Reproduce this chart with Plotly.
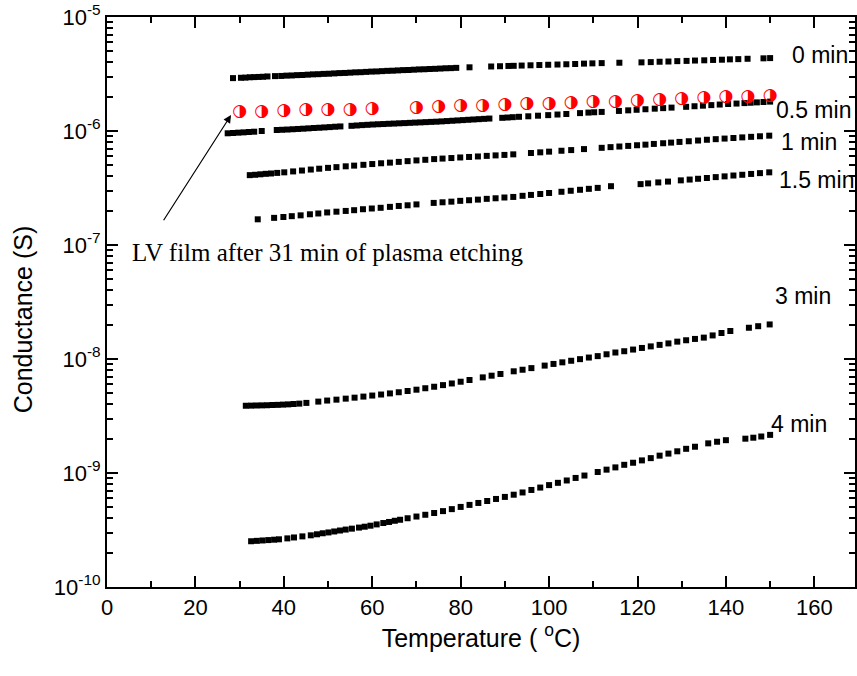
import math
import plotly.graph_objects as go

# ---------------- data ----------------
# 0 min (conductance in microsiemens)
x_0 = [28.5, 30.3, 31.3, 32.3, 33.3, 34.3, 35.3, 36.3, 38.0, 39.4, 40.6, 41.8, 43.0, 44.2, 45.4, 46.6,
       47.8, 49.0, 50.2, 51.4, 52.6, 53.8, 55.0, 56.2, 57.4, 58.6, 59.8, 61.0, 62.2, 63.4, 64.6, 65.8,
       67.0, 68.2, 69.4, 70.6, 71.8, 73.0, 74.2, 75.4, 76.6, 77.8, 79.0, 82.0, 86.9, 88.9, 90.8, 92.0,
       93.8, 95.8, 97.8, 99.8, 101.9, 103.9, 105.9, 107.9, 109.8, 111.9, 115.9, 120.9, 123.0, 125.0,
       127.0, 129.0, 131.1, 133.0, 135.1, 137.1, 139.1, 140.9, 142.8, 144.9, 148.5, 150.0]
g_0_uS = [2.91, 2.93, 2.94, 2.96, 2.97, 2.98, 2.99, 3.01, 3.03, 3.04, 3.06, 3.07, 3.09, 3.10, 3.12, 3.14,
          3.15, 3.17, 3.18, 3.20, 3.22, 3.23, 3.25, 3.27, 3.28, 3.30, 3.32, 3.33, 3.35, 3.37, 3.38, 3.40,
          3.42, 3.43, 3.45, 3.47, 3.48, 3.50, 3.51, 3.53, 3.55, 3.56, 3.58, 3.62, 3.68, 3.70, 3.72, 3.73,
          3.75, 3.77, 3.79, 3.81, 3.83, 3.85, 3.87, 3.90, 3.92, 3.94, 3.97, 4.00, 4.02, 4.05,
          4.07, 4.10, 4.12, 4.15, 4.17, 4.20, 4.22, 4.25, 4.27, 4.30, 4.34, 4.36]

# 0.5 min (microsiemens)
x_05 = [27.3, 28.5, 29.7, 30.9, 32.1, 33.3, 35.0, 38.4, 39.6, 40.8, 42.0, 43.2, 44.4, 45.6, 46.8, 48.0,
        49.2, 50.4, 51.6, 52.8, 55.3, 56.5, 57.7, 58.9, 60.1, 61.3, 62.5, 63.7, 64.9, 66.1, 67.3, 68.5,
        69.7, 70.9, 72.1, 73.3, 74.5, 75.7, 76.9, 78.1, 79.3, 80.5, 81.7, 82.9, 84.1, 85.3, 86.5, 89.4,
        90.6, 91.8, 93.2, 95.3, 97.5, 99.8, 101.9, 103.9, 107.0, 108.9, 110.2, 111.9, 115.8, 117.9,
        119.8, 121.8, 123.9, 125.8, 127.7, 131.0, 132.9, 134.8, 136.7, 138.6, 140.5, 142.4, 144.2,
        145.6, 147.0, 148.5, 150.0]
g_05_uS = [0.955, 0.960, 0.967, 0.973, 0.980, 0.986, 1.000, 1.020, 1.025, 1.030, 1.036, 1.042, 1.048,
           1.055, 1.062, 1.068, 1.075, 1.082, 1.090, 1.097, 1.110, 1.118, 1.126, 1.133, 1.140, 1.146,
           1.151, 1.157, 1.162, 1.168, 1.173, 1.179, 1.185, 1.190, 1.196, 1.202, 1.207, 1.214, 1.222,
           1.230, 1.238, 1.246, 1.254, 1.262, 1.270, 1.278, 1.286, 1.305, 1.313, 1.322, 1.332, 1.346,
           1.362, 1.378, 1.395, 1.410, 1.435, 1.450, 1.460, 1.470, 1.500, 1.518, 1.535, 1.552, 1.570,
           1.587, 1.604, 1.630, 1.649, 1.668, 1.687, 1.706, 1.724, 1.741, 1.757, 1.770, 1.783, 1.797,
           1.810]

# LV film after 31 min of plasma etching (microsiemens)
x_lv = [30, 35, 40, 45, 50, 55, 60, 70, 75, 80, 85, 90, 95, 100, 105, 110, 115, 120, 125, 130, 135,
        140, 145, 150]
g_lv_uS = [1.48, 1.49, 1.51, 1.53, 1.53, 1.55, 1.56, 1.61, 1.64, 1.66, 1.67, 1.69, 1.72, 1.75, 1.77,
           1.79, 1.81, 1.84, 1.87, 1.90, 1.94, 1.98, 1.99, 2.03]

# 1 min (microsiemens)
x_1 = [32.3, 33.5, 34.7, 35.9, 37.1, 38.5, 40.1, 42.1, 44.1, 46.1, 48.0, 50.0, 51.9, 54.0, 55.9, 58.0,
       60.0, 62.0, 64.0, 66.0, 68.0, 70.0, 72.0, 74.0, 75.9, 77.9, 79.9, 81.9, 83.9, 85.9, 87.9, 89.9,
       91.9, 95.9, 98.0, 100.0, 102.8, 105.0, 107.9, 111.9, 113.9, 115.9, 117.9, 119.9, 121.8, 123.7,
       125.8, 127.6, 129.5, 131.6, 133.7, 135.7, 137.7, 139.7, 141.7, 143.7, 145.7, 147.7, 149.8]
g_1_uS = [0.410, 0.413, 0.417, 0.421, 0.424, 0.429, 0.434, 0.442, 0.450, 0.459, 0.467, 0.475, 0.482,
          0.490, 0.497, 0.505, 0.513, 0.521, 0.528, 0.536, 0.544, 0.552, 0.559, 0.567, 0.573, 0.579,
          0.586, 0.592, 0.598, 0.605, 0.611, 0.617, 0.624, 0.641, 0.650, 0.659, 0.671, 0.680, 0.694,
          0.712, 0.722, 0.731, 0.740, 0.750, 0.759, 0.770, 0.781, 0.791, 0.802, 0.813, 0.825, 0.838,
          0.848, 0.858, 0.868, 0.879, 0.889, 0.899, 0.910]

# 1.5 min (microsiemens)
x_15 = [34.1, 37.8, 39.9, 41.8, 43.8, 45.9, 47.8, 49.8, 51.9, 54.0, 55.9, 57.9, 59.9, 61.9, 64.0, 66.0,
        68.0, 70.0, 73.9, 75.9, 77.9, 79.9, 81.9, 83.9, 85.9, 87.9, 89.9, 91.9, 94.0, 95.9, 98.0, 100.0,
        102.8, 104.9, 107.0, 109.0, 111.0, 114.0, 120.7, 122.4, 124.7, 126.9, 129.8, 131.8, 133.7,
        135.7, 137.7, 139.7, 141.7, 143.7, 145.7, 147.7, 149.8]
g_15_uS = [0.168, 0.173, 0.176, 0.179, 0.182, 0.186, 0.189, 0.193, 0.196, 0.199, 0.202, 0.206, 0.209,
           0.212, 0.216, 0.220, 0.223, 0.227, 0.234, 0.237, 0.240, 0.244, 0.247, 0.250, 0.254, 0.257,
           0.261, 0.264, 0.270, 0.275, 0.280, 0.286, 0.293, 0.299, 0.305, 0.311, 0.317, 0.328, 0.342,
           0.347, 0.354, 0.360, 0.369, 0.375, 0.381, 0.387, 0.394, 0.400, 0.407, 0.413, 0.420, 0.427,
           0.434]

# 3 min (nanosiemens)
x_3 = [31.4, 32.6, 33.8, 35.0, 36.2, 37.4, 38.6, 39.8, 41.0, 42.2, 43.5, 45.1, 47.8, 49.8, 51.9, 54.0,
       56.0, 58.0, 60.0, 62.0, 64.0, 66.0, 68.0, 70.0, 72.0, 74.0, 76.0, 78.0, 80.0, 82.0, 85.0, 87.0,
       89.0, 92.0, 94.0, 96.0, 99.0, 101.0, 103.0, 105.0, 107.0, 109.0, 111.0, 113.0, 115.0, 117.0,
       119.0, 121.0, 123.0, 125.0, 127.0, 129.0, 131.0, 133.0, 135.0, 137.0, 139.0, 141.0, 145.2,
       147.3, 149.9]
g_3_nS = [3.89, 3.90, 3.91, 3.92, 3.93, 3.95, 3.96, 3.98, 4.00, 4.03, 4.06, 4.12, 4.23, 4.32, 4.40, 4.49,
          4.58, 4.68, 4.78, 4.88, 4.99, 5.11, 5.24, 5.38, 5.54, 5.71, 5.90, 6.10, 6.32, 6.54, 6.90, 7.14,
          7.39, 7.80, 8.05, 8.32, 8.75, 9.05, 9.35, 9.65, 9.97, 10.3, 10.6, 11.0, 11.4, 11.7,
          12.1, 12.5, 12.9, 13.3, 13.7, 14.2, 14.6, 15.0, 15.4, 16.1, 16.9, 17.6, 18.8,
          19.4, 20.1]

# 4 min (units of 1e-10 S)
x_4 = [32.6, 33.9, 35.2, 36.5, 37.8, 38.9, 40.8, 42.3, 44.2, 46.1, 47.5, 48.8, 50.1, 51.4, 52.7, 54.0,
       55.4, 57.0, 58.3, 59.6, 61.0, 62.5, 63.8, 65.1, 66.3, 68.0, 70.0, 72.0, 74.0, 76.0, 78.0, 80.0,
       82.0, 84.0, 86.0, 88.0, 90.0, 92.0, 94.0, 96.0, 98.0, 100.0, 102.0, 104.0, 106.0, 108.0, 111.0,
       113.0, 115.0, 117.0, 119.0, 121.0, 123.0, 125.0, 127.0, 129.0, 131.0, 133.0, 136.0, 138.0,
       140.0, 144.4, 146.2, 148.0, 150.0]
g_4_e10 = [2.52, 2.54, 2.56, 2.58, 2.60, 2.62, 2.67, 2.72, 2.78, 2.84, 2.90, 2.96, 3.01, 3.07, 3.13, 3.19,
           3.25, 3.32, 3.38, 3.45, 3.54, 3.64, 3.72, 3.81, 3.89, 4.01, 4.15, 4.30, 4.46, 4.63, 4.82, 5.04,
           5.25, 5.46, 5.68, 5.92, 6.17, 6.45, 6.75, 7.10, 7.45, 7.83, 8.2, 8.6, 9.05, 9.5, 10.2,
           10.7, 11.2, 11.8, 12.3, 12.9, 13.5, 14.2, 14.8, 15.5, 16.3, 17.0, 18.2, 18.8,
           19.4, 20.0, 20.4, 20.9, 21.6]

series_names = ["0 min", "0.5 min", "1 min", "1.5 min", "3 min", "4 min"]
x_ticks = [0, 20, 40, 60, 80, 100, 120, 140, 160]
y_ticks = [1e-10, 1e-9, 1e-8, 1e-7, 1e-6, 1e-5]
y_tick_text = ["10<sup>-10</sup>", "10<sup>-9</sup>", "10<sup>-8</sup>", "10<sup>-7</sup>",
               "10<sup>-6</sup>", "10<sup>-5</sup>"]
annotation_text = "LV film after 31 min of plasma etching"
x_title = "Temperature ( <sup>o</sup>C)"
y_title = "Conductance (S)"

# ---------------- figure ----------------
uS, nS = 1e-6, 1e-9
black_series = [
    (x_0, [v * uS for v in g_0_uS]),
    (x_05, [v * uS for v in g_05_uS]),
    (x_1, [v * uS for v in g_1_uS]),
    (x_15, [v * uS for v in g_15_uS]),
    (x_3, [v * nS for v in g_3_nS]),
    (x_4, [v * 1e-10 for v in g_4_e10]),
]

SANS = "Liberation Sans, Arial"
fig = go.Figure()
for name, (xs, ys) in zip(series_names, black_series):
    fig.add_trace(go.Scatter(x=xs, y=ys, mode="markers", name=name,
                             marker=dict(symbol="square", size=6, color="black",
                                         line=dict(width=0))))

fig.add_trace(go.Scatter(x=x_lv, y=[v * uS for v in g_lv_uS], mode="text", name=annotation_text,
                         text=["\u25D1"] * len(x_lv), textposition="middle center",
                         textfont=dict(family="DejaVu Sans", size=17, color="red")))

# series labels (x in data units, y in conductance)
label_pos = {"0 min": (154.6, 4.66e-6), "0.5 min": (150.8, 1.53e-6), "1 min": (152.1, 8.05e-7),
             "1.5 min": (151.6, 3.71e-7), "3 min": (150.6, 3.54e-8), "4 min": (149.8, 2.69e-9)}
annotations = []
for name in series_names:
    lx, ly = label_pos[name]
    annotations.append(dict(x=lx, y=math.log10(ly), xref="x", yref="y", text=name, showarrow=False,
                            xanchor="left", yanchor="middle",
                            font=dict(family=SANS, size=23, color="black")))

annotations.append(dict(x=5.1, y=math.log10(8.63e-8), xref="x", yref="y", text=annotation_text,
                        showarrow=False, xanchor="left", yanchor="middle",
                        font=dict(family="Liberation Serif, Times New Roman", size=25, color="black")))
annotations.append(dict(x=28.06, y=math.log10(1.38e-6), xref="x", yref="y", text="",
                        showarrow=True, ax=-68.4, ay=106.7, axref="pixel", ayref="pixel",
                        arrowhead=2, arrowsize=1.3, arrowwidth=1.2, arrowcolor="black", standoff=0))
# y axis title
annotations.append(dict(x=-0.112, y=0.47, xref="paper", yref="paper", text=y_title, textangle=-90,
                        showarrow=False, xanchor="center", yanchor="middle",
                        font=dict(family=SANS, size=25, color="black")))

axis_common = dict(showline=True, linewidth=2, linecolor="black", mirror="allticks", ticks="inside",
                   ticklen=11, tickwidth=2, tickcolor="black", showgrid=False, zeroline=False,
                   tickfont=dict(family=SANS, size=22, color="black"))

fig.update_xaxes(range=[0, 169.2], tickmode="array", tickvals=x_ticks,
                 ticktext=[str(t) for t in x_ticks],
                 minor=dict(ticks="inside", ticklen=6, tickwidth=2, tickcolor="black",
                            tickmode="array", tickvals=[10, 30, 50, 70, 90, 110, 130, 150]),
                 title=dict(text=x_title, standoff=10,
                            font=dict(family=SANS, size=25, color="black")),
                 **axis_common)

minor_y = [m * 10.0 ** e for e in range(-10, -5) for m in range(2, 10)]
fig.update_yaxes(type="log", range=[-10, -5], tickmode="array", tickvals=y_ticks,
                 ticktext=y_tick_text,
                 minor=dict(ticks="inside", ticklen=6, tickwidth=2, tickcolor="black",
                            tickmode="array", tickvals=minor_y),
                 **axis_common)

fig.update_layout(width=857, height=676, margin=dict(l=107, r=0, t=17, b=89),
                  plot_bgcolor="white", paper_bgcolor="white", showlegend=False,
                  annotations=annotations)

fig.write_html("out.html")
